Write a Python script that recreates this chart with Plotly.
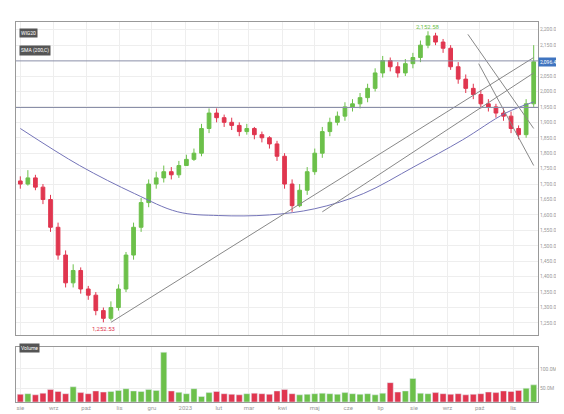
import plotly.graph_objects as go
from plotly.subplots import make_subplots
import pandas as pd

dates = pd.date_range("2022-08-01", periods=69, freq="7D")
closes = [1700,1720,1690,1650,1560,1470,1380,1420,1360,1340,1290,1265,1300,1360,1470,1560,1640,1700,1720,1740,
          1730,1760,1780,1800,1880,1930,1915,1900,1890,1870,1880,1860,1850,1830,1790,1700,1630,1680,1740,1800,
          1870,1900,1920,1950,1960,1980,2010,2060,2100,2080,2060,2090,2110,2150,2180,2160,2140,2080,2040,2010,
          1990,1960,1950,1930,1920,1880,1860,1960,2096]
opens = [1710] + closes[:-1]
highs = [1725,1745,1730,1700,1665,1575,1485,1440,1430,1370,1350,1300,1320,1375,1480,1575,1655,1715,1740,1760,
         1755,1775,1795,1815,1895,1945,1945,1925,1915,1900,1895,1885,1870,1855,1840,1800,1715,1700,1755,1815,
         1885,1915,1935,1965,1975,1995,2025,2075,2115,2110,2095,2105,2125,2165,2195,2190,2170,2150,2095,2055,
         2025,2005,1975,1960,1945,1935,1890,1975,2150]
lows = [1685,1695,1680,1635,1545,1455,1365,1365,1345,1325,1275,1252,1258,1290,1350,1455,1545,1625,1685,1705,
        1715,1720,1760,1775,1790,1865,1900,1885,1875,1855,1860,1845,1835,1815,1775,1685,1610,1625,1665,1730,
        1785,1855,1890,1905,1935,1945,1965,2000,2045,2065,2045,2050,2075,2095,2140,2150,2125,2070,2025,1995,
        1975,1945,1935,1915,1905,1865,1845,1850,1950]
volumes = [28,30,26,32,45,38,30,55,34,30,40,36,38,42,48,40,38,45,42,180,
           40,35,30,48,20,34,38,30,28,26,30,32,30,28,40,45,30,26,28,30,
           32,30,28,34,30,28,30,26,32,70,36,40,85,32,30,34,30,28,30,26,
           28,30,36,34,40,38,42,50,62]
ma_dates = ["2022-08-01","2022-09-25","2022-11-15","2022-12-25","2023-02-01","2023-03-20","2023-05-01","2023-06-15","2023-08-01","2023-09-15","2023-10-25","2023-11-20"]
ma_vals = [1880,1760,1669,1610,1598,1600,1620,1669,1756,1843,1930,1966]
hlines = [2099, 1948]
trend_lines = [(("2022-10-24","2023-11-20"),(1252,2110)),
               (("2023-05-08","2023-11-20"),(1610,2060)),
               (("2023-09-20","2023-11-20"),(2185,1880)),
               (("2023-09-30","2023-11-20"),(2090,1760))]
price_ticks = [1250,1300,1350,1400,1450,1500,1550,1600,1650,1700,1750,1800,1850,1900,1950,2000,2050,2150,2200]
tick_vals = ["2022-08-01","2022-09-01","2022-10-01","2022-11-01","2022-12-01","2023-01-01","2023-02-01","2023-03-01",
             "2023-04-01","2023-05-01","2023-06-01","2023-07-01","2023-08-01","2023-09-01","2023-10-01","2023-11-01"]
tick_text = ["sie","wrz","paź","lis","gru","2023","lut","mar","kwi","maj","cze","lip","sie","wrz","paź","lis"]

green, red = "#6cc04a", "#e0364f"
fig = make_subplots(rows=2, cols=1, shared_xaxes=True, row_heights=[0.85, 0.15], vertical_spacing=0.03)
fig.add_trace(go.Candlestick(x=dates, open=opens, high=highs, low=lows, close=closes,
                             increasing=dict(line=dict(color=green, width=1), fillcolor=green),
                             decreasing=dict(line=dict(color=red, width=1), fillcolor=red),
                             showlegend=False), row=1, col=1)
fig.add_trace(go.Scatter(x=ma_dates, y=ma_vals, mode="lines", line=dict(color="#7474b8", width=1, shape="spline"),
                         showlegend=False), row=1, col=1)
vcol = [green if c >= o else red for o, c in zip(opens, closes)]
fig.add_trace(go.Bar(x=dates, y=volumes, marker_color=vcol, showlegend=False), row=2, col=1)
for h in hlines:
    fig.add_hline(y=h, line=dict(color="#8a8fa8", width=1), row=1, col=1)
for (xs, ys) in trend_lines:
    fig.add_trace(go.Scatter(x=list(xs), y=list(ys), mode="lines", line=dict(color="#888", width=1),
                             showlegend=False), row=1, col=1)
ax = dict(showgrid=True, gridcolor="#eeeeee", zeroline=False, linecolor="#999", mirror=True, showline=True)
fig.update_xaxes(**ax, rangeslider_visible=False, tickvals=tick_vals, ticktext=tick_text, tickfont=dict(size=6, color="#999"),
                 range=["2022-07-28","2023-11-24"])
fig.update_xaxes(showticklabels=False, row=1, col=1)
fig.update_yaxes(**ax, side="right", tickfont=dict(size=5, color="#999"))
fig.update_yaxes(range=[1210, 2225], tickvals=price_ticks, tickformat=",.2f", row=1, col=1)
fig.update_yaxes(range=[0, 200], tickvals=[50, 120], ticktext=["50.0M", "100.0M"], row=2, col=1)
fig.update_layout(width=564, height=414, margin=dict(l=8, r=34, t=14, b=20), plot_bgcolor="white",
                  paper_bgcolor="white", font=dict(family="Roboto"), bargap=0.2)
box = dict(bgcolor="#555", font=dict(size=5, color="white"), showarrow=False, xref="paper", yref="paper", xanchor="left")
fig.add_annotation(text="WIG20", x=0.005, y=0.985, **box)
fig.add_annotation(text="SMA (200,C)", x=0.005, y=0.94, **box)
fig.add_annotation(text="Volume", x=0.005, y=0.13, **box)
fig.add_annotation(text="2,152.58", x=dates[54], y=2195, yshift=5, showarrow=False, font=dict(size=6, color=green))
fig.add_annotation(text="1,252.53", x=dates[11], y=1252, yshift=-6, showarrow=False, font=dict(size=6, color=red))
fig.add_annotation(text="2,096.42", x=1.0, xref="paper", y=closes[-1], yref="y", xanchor="left", showarrow=False,
                   bgcolor="#3f74c0", font=dict(size=5, color="white"), borderpad=1)
fig.write_html("out.html")
